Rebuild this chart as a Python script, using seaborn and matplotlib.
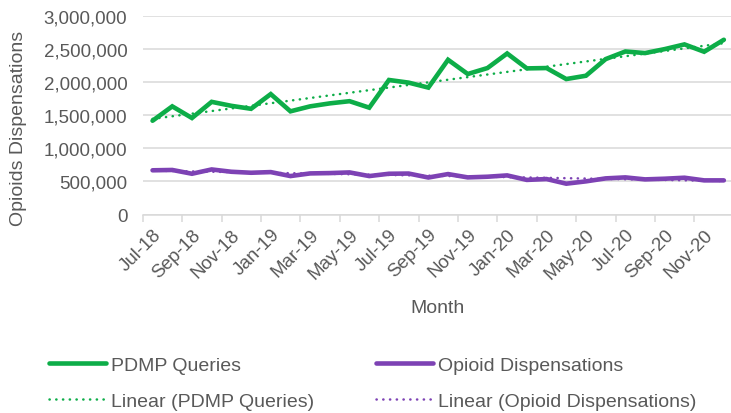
import numpy as np
import pandas as pd
import matplotlib
matplotlib.use("Agg")
import matplotlib.pyplot as plt
import seaborn as sns
from matplotlib.ticker import FuncFormatter, FixedLocator

# ========== DATA ==========
months = ["Jul-18", "Aug-18", "Sep-18", "Oct-18", "Nov-18", "Dec-18",
          "Jan-19", "Feb-19", "Mar-19", "Apr-19", "May-19", "Jun-19",
          "Jul-19", "Aug-19", "Sep-19", "Oct-19", "Nov-19", "Dec-19",
          "Jan-20", "Feb-20", "Mar-20", "Apr-20", "May-20", "Jun-20",
          "Jul-20", "Aug-20", "Sep-20", "Oct-20", "Nov-20", "Dec-20"]

pdmp_queries = [1415000, 1632000, 1456000, 1700000, 1640000, 1595000,
                1817000, 1557000, 1632000, 1677000, 1710000, 1612000,
                2030000, 1990000, 1915000, 2335000, 2120000, 2210000,
                2430000, 2205000, 2210000, 2044000, 2094000, 2345000,
                2460000, 2436000, 2496000, 2567000, 2456000, 2637000]

opioid_dispensations = [667000, 672000, 615000, 680000, 645000, 630000,
                        640000, 580000, 620000, 625000, 635000, 580000,
                        615000, 618000, 558000, 610000, 560000, 570000,
                        590000, 522000, 535000, 465000, 500000, 545000,
                        560000, 530000, 540000, 555000, 515000, 515000]

series_names = ["PDMP Queries", "Opioid Dispensations"]
colors = {"PDMP Queries": "#0DAD48", "Opioid Dispensations": "#7D42B4"}

# ========== FRAME ==========
idx = np.arange(len(months))
df = pd.DataFrame({
    "month_idx": np.concatenate([idx, idx]),
    "value": pdmp_queries + opioid_dispensations,
    "series": [series_names[0]] * len(months) + [series_names[1]] * len(months),
})

# ========== PLOT ==========
sns.set_style("white")
plt.rcParams["font.family"] = ["Liberation Sans", "DejaVu Sans"]

fig = plt.figure(figsize=(7.31, 4.14), dpi=100)
ax = fig.add_axes([142.7 / 731, 1 - 215.5 / 414, 591 / 731, 198.8 / 414])

sns.lineplot(data=df, x="month_idx", y="value", hue="series",
             palette=colors, linewidth=3.3, ax=ax, legend=False,
             solid_joinstyle="miter")

# linear trendlines (round dots)
for name in series_names:
    sub = df[df["series"] == name]
    sns.regplot(data=sub, x="month_idx", y="value", scatter=False, ci=None,
                ax=ax, color=colors[name],
                line_kws={"linewidth": 1.8, "linestyle": (0, (0.1, 2.6)),
                          "dash_capstyle": "round"})

ax.set_xlim(-0.5, len(months) - 0.5)
ax.set_ylim(0, 3000000)

# y axis
ax.yaxis.set_major_locator(FixedLocator(np.arange(0, 3000001, 500000)))
ax.yaxis.set_major_formatter(FuncFormatter(lambda v, p: f"{int(v):,}"))
ax.grid(axis="y", color="#D9D9D9", linewidth=1.1)
ax.set_axisbelow(True)
ax.tick_params(axis="y", length=0, pad=11, labelsize=13.5, labelcolor="#595959")

# x axis: labels every 2 months, tick marks between categories
ax.set_xticks(idx[::2])
ax.set_xticklabels(months[::2], rotation=45, ha="right", va="top",
                   rotation_mode="anchor")
ax.set_xticks(np.arange(-0.5, len(months), 2), minor=True)
ax.tick_params(axis="x", which="major", length=0, pad=8, labelsize=13.5,
               labelcolor="#595959")
ax.tick_params(axis="x", which="minor", length=5, width=1.1, color="#D9D9D9",
               bottom=True)

for s in ["top", "right", "left"]:
    ax.spines[s].set_visible(False)
ax.spines["bottom"].set_color("#D9D9D9")
ax.spines["bottom"].set_linewidth(1.1)

ax.set_xlabel("Month", fontsize=14, color="#595959")
ax.xaxis.set_label_coords((437 - 142.7) / 591, (215.5 - 309) / 198.8)
ax.xaxis.label.set_va("center")
ax.set_ylabel("Opioids Dispensations", fontsize=14, color="#595959")
ax.yaxis.set_label_coords((19 - 142.7) / 591, (215.5 - 128.5) / 198.8)
ax.yaxis.label.set_va("center")

# legend
lines = ax.get_lines()
handles = [lines[0], lines[2], lines[1], lines[3]]
labels = ["PDMP Queries", "Linear (PDMP Queries)",
          "Opioid Dispensations", "Linear (Opioid Dispensations)"]
leg = fig.legend(handles, labels, ncol=2, loc="upper left",
                 bbox_to_anchor=(49 / 731, 1 - 357 / 414), frameon=False,
                 fontsize=14, handlelength=2.95, handletextpad=0.25,
                 columnspacing=3.15, labelspacing=0.95, borderpad=0,
                 borderaxespad=0)
for t in leg.get_texts():
    t.set_color("#595959")

fig.savefig("out.png", dpi=100)
